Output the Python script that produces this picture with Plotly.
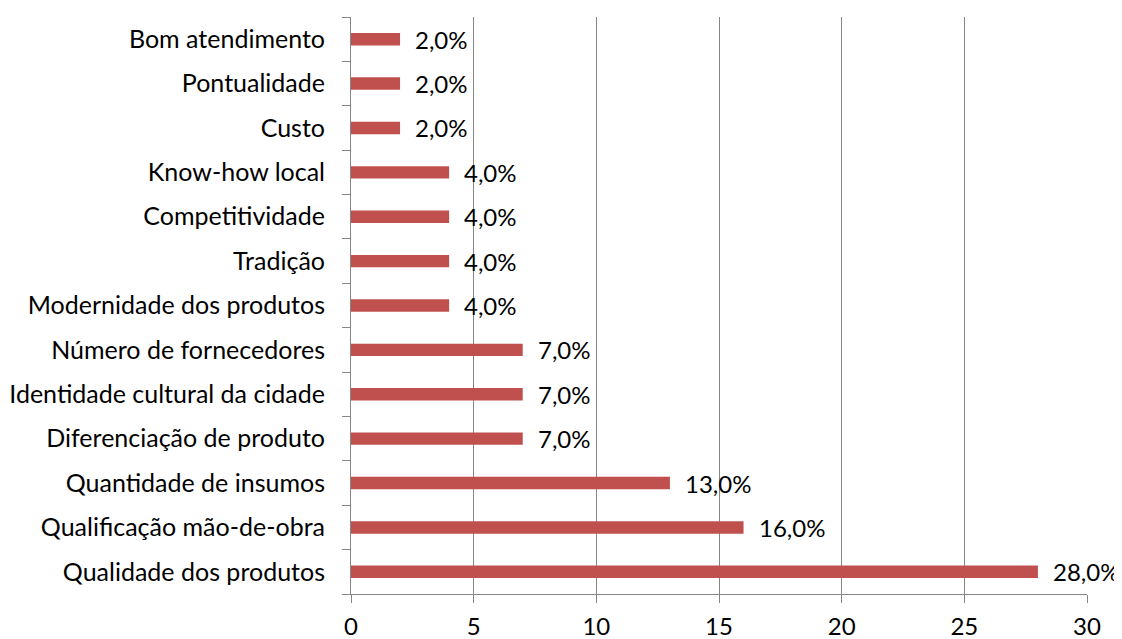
import plotly.graph_objects as go

categories = [
    "Qualidade dos produtos",
    "Qualificação mão-de-obra",
    "Quantidade de insumos",
    "Diferenciação de produto",
    "Identidade cultural da cidade",
    "Número de fornecedores",
    "Modernidade dos produtos",
    "Tradição",
    "Competitividade",
    "Know-how local",
    "Custo",
    "Pontualidade",
    "Bom atendimento",
]
values = [28, 16, 13, 7, 7, 7, 4, 4, 4, 4, 2, 2, 2]
labels = [f"{v:.1f}%".replace(".", ",") for v in values]
x_ticks = [0, 5, 10, 15, 20, 25, 30]

FONT = "Lato, Carlito, Calibri, sans-serif"
FS = 25
GRID = "#868686"

fig = go.Figure(
    go.Bar(
        x=values,
        y=categories,
        orientation="h",
        marker=dict(color="#C0504D", line=dict(width=0)),
        width=0.28,
        hoverinfo="skip",
    )
)

for v, c, t in zip(values, categories, labels):
    fig.add_annotation(
        x=v, y=c, text=t, xanchor="left", yanchor="middle",
        xshift=13, showarrow=False,
        font=dict(family=FONT, size=24, color="black"),
    )

fig.update_layout(
    width=1114,
    height=631,
    margin=dict(l=343, r=35, t=9, b=45, autoexpand=False),
    plot_bgcolor="white",
    paper_bgcolor="white",
    showlegend=False,
    font=dict(family=FONT, size=FS, color="black"),
)
fig.update_xaxes(
    range=[0, 30],
    tickvals=x_ticks,
    showgrid=True,
    gridcolor=GRID,
    gridwidth=1,
    showline=True,
    linecolor=GRID,
    linewidth=1,
    ticks="outside",
    ticklen=8,
    tickcolor=GRID,
    zeroline=False,
    automargin=False,
    ticklabelstandoff=3,
    tickfont=dict(size=24, family=FONT, color="black"),
)
fig.update_yaxes(
    type="category",
    categoryorder="array",
    categoryarray=categories,
    tickson="boundaries",
    showgrid=False,
    showline=True,
    linecolor=GRID,
    linewidth=1,
    ticks="outside",
    ticklen=8,
    tickcolor=GRID,
    automargin=False,
    ticklabelstandoff=20,
    tickfont=dict(size=FS, family=FONT, color="black"),
)

fig.write_html("out.html")
